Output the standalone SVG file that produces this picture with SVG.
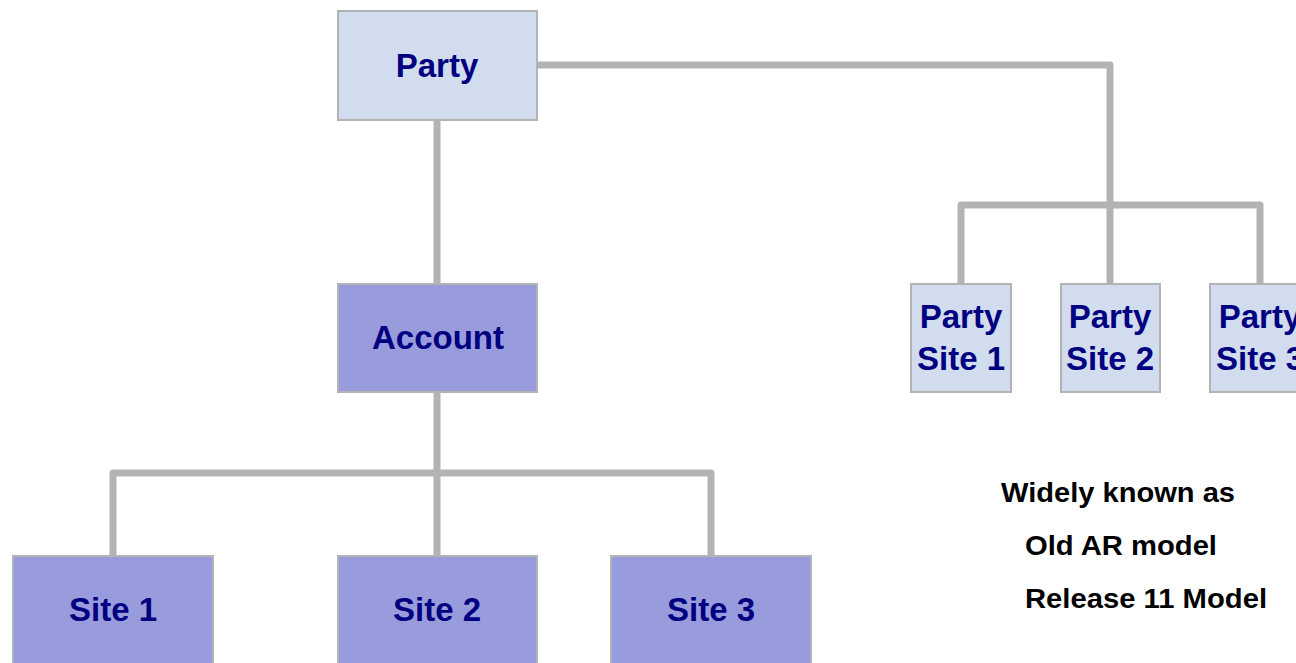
<svg xmlns="http://www.w3.org/2000/svg" width="1296" height="663" viewBox="0 0 1296 663">
<style>
.light{fill:#d1dcee;stroke:#b3b3b3;stroke-width:2}
.dark{fill:#999cdc;stroke:#b3b3b3;stroke-width:2}
.lbl{font-family:"Liberation Sans",Arial,sans-serif;font-weight:bold;font-size:33px;fill:#000080;text-anchor:middle}
.note{font-family:"Liberation Sans",Arial,sans-serif;font-weight:bold;font-size:27px;fill:#000}
.conn{fill:none;stroke:#b3b3b3;stroke-width:7;stroke-linecap:round;stroke-linejoin:round}
</style>
<rect width="1296" height="663" fill="#fff"/>
<g id="connectors" class="conn">
<polyline points="537,65 1110,65 1110,284"/>
<polyline points="961,284 961,205 1260,205 1260,284"/>
<line x1="437" y1="120" x2="437" y2="284"/>
<line x1="437" y1="392" x2="437" y2="556"/>
<polyline points="113,556 113,473 711,473 711,556"/>
</g>
<g id="party"><rect class="light" x="338" y="11" width="199" height="109"/><text class="lbl" x="437" y="77">Party</text></g>
<g id="account"><rect class="dark" x="338" y="284" width="199" height="108"/><text class="lbl" x="438" y="349">Account</text></g>
<g id="site1"><rect class="dark" x="13" y="556" width="200" height="110"/><text class="lbl" x="113" y="621">Site 1</text></g>
<g id="site2"><rect class="dark" x="338" y="556" width="199" height="110"/><text class="lbl" x="437" y="621">Site 2</text></g>
<g id="site3"><rect class="dark" x="611" y="556" width="200" height="110"/><text class="lbl" x="711" y="621">Site 3</text></g>
<g id="partysite1"><rect class="light" x="911" y="284" width="100" height="108"/><text class="lbl" x="961" y="328">Party</text><text class="lbl" x="961" y="370">Site 1</text></g>
<g id="partysite2"><rect class="light" x="1061" y="284" width="99" height="108"/><text class="lbl" x="1110" y="328">Party</text><text class="lbl" x="1110" y="370">Site 2</text></g>
<g id="partysite3"><rect class="light" x="1210" y="284" width="100" height="108"/><text class="lbl" x="1260" y="328">Party</text><text class="lbl" x="1260" y="370">Site 3</text></g>
<g id="note">
<text class="note" x="1001" y="502" textLength="234" lengthAdjust="spacingAndGlyphs">Widely known as</text>
<text class="note" x="1025" y="555" textLength="192" lengthAdjust="spacingAndGlyphs">Old AR model</text>
<text class="note" x="1025" y="608" textLength="242" lengthAdjust="spacingAndGlyphs">Release 11 Model</text>
</g>
</svg>
